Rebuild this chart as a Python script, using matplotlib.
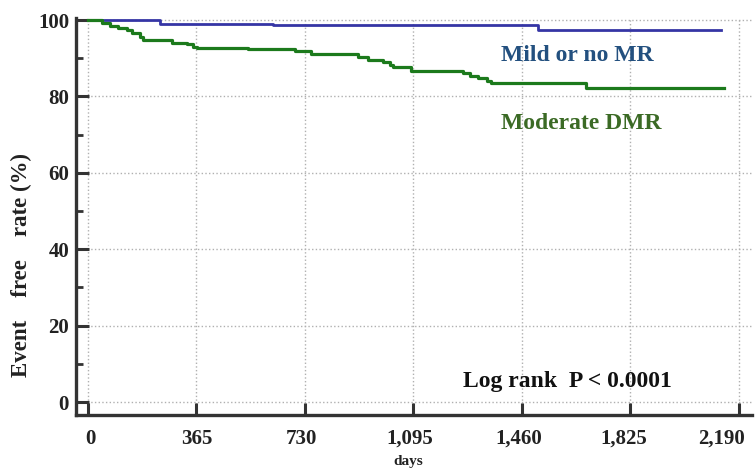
import numpy as np
import matplotlib.pyplot as plt
from matplotlib.transforms import ScaledTranslation

# Kaplan-Meier style step data (days, event free %)
mild_days = [0, 242, 622, 1514, 2130]
mild_rate = [100, 99.0, 98.7, 97.4, 97.4]

mod_days = [0, 46, 74, 102, 130, 147, 175, 186, 282, 332, 354, 366, 539, 696,
            752, 909, 943, 993, 1016, 1027, 1088, 1263, 1285, 1313, 1341, 1357,
            1675, 2140]
mod_rate = [100, 99.1, 98.5, 97.8, 97.4, 96.5, 95.5, 94.8, 94.1, 93.6, 93.0,
            92.6, 92.4, 91.9, 91.1, 90.3, 89.6, 89.1, 88.2, 87.6, 86.7, 86.0,
            85.4, 84.7, 84.0, 83.4, 82.3, 82.3]

x_ticks = [0, 365, 730, 1095, 1460, 1825, 2190]
x_labels = ["0", "365", "730", "1,095", "1,460", "1,825", "2,190"]
y_ticks = [0, 20, 40, 60, 80, 100]

plt.rcParams['font.family'] = ['Liberation Serif', 'DejaVu Serif']
plt.rcParams['font.weight'] = 'bold'

fig = plt.figure(figsize=(7.55, 4.75), dpi=100)
ax = fig.add_axes([0.1007, 0.1263, 0.8953, 0.8364])

ax.grid(True, which='major', color='#b0b0b0', linestyle=':', linewidth=1.0)
ax.set_axisbelow(True)

ax.step(mild_days, mild_rate, where='post', color='#3535a5', linewidth=2.0)
ax.step(mod_days, mod_rate, where='post', color='#1c7a1c', linewidth=2.3)

ax.set_xlim(-40, 2234)
ax.set_ylim(-3.4, 100.6)
ax.set_xticks(x_ticks)
ax.set_xticklabels(x_labels)
ax.set_yticks(y_ticks)
ax.set_yticks([10, 30, 50, 70, 90], minor=True)

for s in ['top', 'right']:
    ax.spines[s].set_visible(False)
for s in ['left', 'bottom']:
    ax.spines[s].set_linewidth(2.4)
    ax.spines[s].set_color('#333333')

ax.tick_params(axis='both', which='major', direction='in', length=9, width=2.2,
               color='#333333', labelsize=15, labelcolor='#222222')
ax.tick_params(axis='y', which='minor', direction='in', length=5, width=2.0,
               color='#333333')
ax.tick_params(axis='x', pad=10)
ax.tick_params(axis='y', pad=5)
for lab in ax.get_xticklabels() + ax.get_yticklabels():
    lab.set_fontweight('bold')

# x labels are not exactly centred on their ticks; the last one is pulled in to fit
label_shift_px = [3, 0, -3, -4, -3, -7, -17]
for lab, shift in zip(ax.get_xticklabels(), label_shift_px):
    lab.set_transform(lab.get_transform() + ScaledTranslation(shift / 100, 0, fig.dpi_scale_trans))

ax.text(1645, 90.6, "Mild or no MR", color='#23507f', fontsize=17,
        fontweight='bold', ha='center', va='center')
ax.text(1660, 73.0, "Moderate DMR", color='#3b6a25', fontsize=17,
        fontweight='bold', ha='center', va='center')
ax.text(1612, 5.3, "Log rank  P < 0.0001", color='#111111', fontsize=17,
        fontweight='bold', ha='center', va='center')

fig.text(408 / 755, 1 - 462 / 475, "days", fontsize=11, fontweight='bold',
         ha='center', va='center', color='#222222')
fig.text(21 / 755, 1 - 265 / 475, "Event    free    rate (%)", rotation=90,
         fontsize=16.5, fontweight='bold', ha='center', va='center',
         color='#222222')

fig.savefig("out.png", dpi=100)
